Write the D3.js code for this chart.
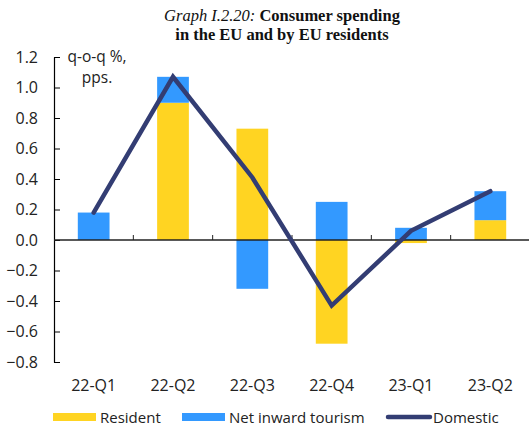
<!DOCTYPE html>
<html>
<head>
<meta charset="utf-8">
<script src="https://cdn.jsdelivr.net/npm/d3@7"></script>
<style>
  body { margin: 0; background: #fff; }
  text { font-family: "Open Sans", "Liberation Sans", Arial, sans-serif; fill: #222; }
</style>
</head>
<body>
<svg width="529" height="427"></svg>
<script>
var quarters = ["22-Q1", "22-Q2", "22-Q3", "22-Q4", "23-Q1", "23-Q2"];
var resident = [0.0, 0.90, 0.73, -0.68, -0.02, 0.13];
var tourism = [0.18, 0.17, -0.32, 0.25, 0.08, 0.19];
var domestic = [0.18, 1.07, 0.41, -0.43, 0.06, 0.32];
var yTicks = [-0.8, -0.6, -0.4, -0.2, 0.0, 0.2, 0.4, 0.6, 0.8, 1.0, 1.2];

var svg = d3.select("svg"),
    margin = {top: 57, right: -1, bottom: 65, left: 54},
    width = svg.attr("width") - margin.left - margin.right,
    height = svg.attr("height") - margin.top - margin.bottom;

var x = d3.scaleBand().domain(quarters).range([0, width]).paddingInner(0.6).paddingOuter(0.3),
    y = d3.scaleLinear().domain([-0.8, 1.2]).range([height, 0]);

var colResident = "#ffd422", colTourism = "#3399ff", colLine = "#333d73";

var g = svg.append("g")
    .attr("transform", "translate(" + margin.left + "," + margin.top + ")");

// title
var title = svg.append("text")
    .attr("x", 282)
    .attr("y", 21)
    .attr("text-anchor", "middle")
    .style("font-family", "'Liberation Serif', 'Times New Roman', serif")
    .style("font-size", "16.5px")
    .style("fill", "#111");
title.append("tspan").style("font-style", "italic").text("Graph I.2.20: ");
title.append("tspan").style("font-weight", "bold").text("Consumer spending");
svg.append("text")
    .attr("x", 282)
    .attr("y", 40)
    .attr("text-anchor", "middle")
    .style("font-family", "'Liberation Serif', 'Times New Roman', serif")
    .style("font-size", "16.5px")
    .style("font-weight", "bold")
    .style("fill", "#111")
    .text("in the EU and by EU residents");

// stacked bars: positive parts stack up, negative parts stack down
quarters.forEach(function(q, i) {
    var pos = 0, neg = 0;
    [[resident[i], colResident], [tourism[i], colTourism]].forEach(function(p) {
        var v = p[0], y0, y1;
        if (v >= 0) { y0 = pos; y1 = pos + v; pos = y1; }
        else { y0 = neg; y1 = neg + v; neg = y1; }
        g.append("rect")
            .attr("x", x(q))
            .attr("width", x.bandwidth())
            .attr("y", y(Math.max(y0, y1)))
            .attr("height", Math.abs(y(y0) - y(y1)))
            .attr("fill", p[1]);
    });
});

// y axis
var yAxis = g.append("g")
    .call(d3.axisLeft(y).tickValues(yTicks).tickFormat(d3.format(".1f")).tickSizeInner(-6).tickSizeOuter(0).tickPadding(16));
yAxis.select(".domain").attr("stroke", "#000").attr("stroke-width", 1.2);
yAxis.selectAll(".tick line").attr("stroke", "#000");
yAxis.selectAll("text").style("font-size", "16px").attr("fill", "#222");

// x axis at zero, ticks between categories
var step = x.step();
g.append("line")
    .attr("x1", 0).attr("x2", width)
    .attr("y1", y(0)).attr("y2", y(0))
    .attr("stroke", "#222").attr("stroke-width", 1.5);
g.selectAll(".xtick")
    .data(quarters.slice(1))
    .enter().append("line")
    .attr("x1", function(d) { return x(d) - x.paddingInner() * step / 2; })
    .attr("x2", function(d) { return x(d) - x.paddingInner() * step / 2; })
    .attr("y1", y(0)).attr("y2", y(0) - 5)
    .attr("stroke", "#222");
g.selectAll(".xlabel")
    .data(quarters)
    .enter().append("text")
    .attr("x", function(d) { return x(d) + x.bandwidth() / 2; })
    .attr("y", height + 29)
    .attr("text-anchor", "middle")
    .style("font-size", "16px")
    .text(function(d) { return d; });

// domestic line
var line = d3.line()
    .x(function(d, i) { return x(quarters[i]) + x.bandwidth() / 2; })
    .y(function(d) { return y(d); });
g.append("path")
    .datum(domestic)
    .attr("fill", "none")
    .attr("stroke", colLine)
    .attr("stroke-width", 4.5)
    .attr("stroke-linecap", "round")
    .attr("stroke-linejoin", "miter")
    .attr("d", line);

// unit label
svg.append("text")
    .attr("x", 97).attr("y", 62)
    .attr("text-anchor", "middle")
    .style("font-size", "15.5px")
    .text("q-o-q %,");
svg.append("text")
    .attr("x", 97).attr("y", 83)
    .attr("text-anchor", "middle")
    .style("font-size", "15.5px")
    .text("pps.");

// legend
var legendItems = [
    {name: "Resident", color: colResident, type: "rect", x: 53},
    {name: "Net inward tourism", color: colTourism, type: "rect", x: 182},
    {name: "Domestic", color: colLine, type: "line", x: 386}
];
var legend = svg.append("g").attr("transform", "translate(0,417)");
legendItems.forEach(function(it) {
    if (it.type === "rect") {
        legend.append("rect")
            .attr("x", it.x).attr("y", -4)
            .attr("width", 43).attr("height", 8)
            .attr("fill", it.color);
    } else {
        legend.append("line")
            .attr("x1", it.x + 2).attr("x2", it.x + 44)
            .attr("y1", 0).attr("y2", 0)
            .attr("stroke", it.color).attr("stroke-width", 4.5)
            .attr("stroke-linecap", "round");
    }
    legend.append("text")
        .attr("x", it.x + 47).attr("y", 6)
        .style("font-size", "15px")
        .text(it.name);
});
</script>
</body>
</html>
